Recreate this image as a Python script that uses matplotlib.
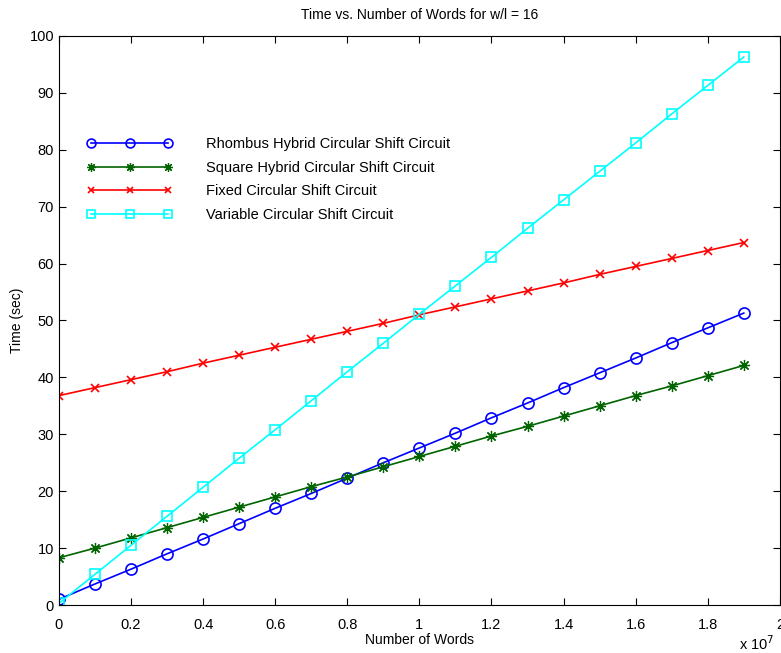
import matplotlib
matplotlib.use("Agg")
import matplotlib.pyplot as plt

plt.rcParams["font.family"] = ["Liberation Sans", "DejaVu Sans"]
plt.rcParams["font.size"] = 10

# number of words, in units of 1e7
words = [0.0, 0.1, 0.2, 0.3, 0.4, 0.5, 0.6, 0.7, 0.8, 0.9,
         1.0, 1.1, 1.2, 1.3, 1.4, 1.5, 1.6, 1.7, 1.8, 1.9]

rhombus = [1.0, 3.7, 6.3, 9.0, 11.6, 14.3, 17.0, 19.6, 22.3, 25.0,
           27.6, 30.2, 32.9, 35.5, 38.2, 40.8, 43.4, 46.1, 48.7, 51.3]
square = [8.3, 10.0, 11.8, 13.6, 15.4, 17.2, 19.0, 20.8, 22.5, 24.3,
          26.1, 27.9, 29.7, 31.4, 33.2, 35.0, 36.8, 38.5, 40.3, 42.1]
fixed = [36.8, 38.2, 39.6, 41.0, 42.5, 43.9, 45.3, 46.7, 48.1, 49.5,
         51.0, 52.4, 53.8, 55.2, 56.6, 58.1, 59.5, 60.9, 62.3, 63.7]
variable = [0.3, 5.4, 10.5, 15.6, 20.7, 25.8, 30.8, 35.9, 41.0, 46.0,
            51.1, 56.1, 61.1, 66.2, 71.2, 76.2, 81.2, 86.3, 91.3, 96.3]

labels = ["Rhombus Hybrid Circular Shift Circuit",
          "Square Hybrid Circular Shift Circuit",
          "Fixed Circular Shift Circuit",
          "Variable Circular Shift Circuit"]

fig = plt.figure(figsize=(7.81, 6.53), dpi=100)
ax = fig.add_axes([0.0755, 0.0735, 0.923, 0.8714])

ax.plot(words, rhombus, color="#0000ff", marker="o", markersize=8,
        markerfacecolor="none", markeredgewidth=1.2, linewidth=1.2, label=labels[0])
ax.plot(words, square, color="#006400", marker=(8, 2, 0), markersize=8,
        markeredgewidth=0.9, linewidth=1.2, label=labels[1])
ax.plot(words, fixed, color="#ff0000", marker="x", markersize=6,
        markeredgewidth=1.2, linewidth=1.2, label=labels[2])
ax.plot(words, variable, color="#00ffff", marker="s", markersize=7,
        markerfacecolor="none", markeredgewidth=1.2, linewidth=1.2, label=labels[3])

ax.set_xlim(0, 2)
ax.set_ylim(0, 100)
ax.set_xticks([0, 0.2, 0.4, 0.6, 0.8, 1, 1.2, 1.4, 1.6, 1.8, 2])
ax.set_xticklabels(["0", "0.2", "0.4", "0.6", "0.8", "1", "1.2", "1.4", "1.6", "1.8", "2"])
ax.set_yticks(range(0, 101, 10))
ax.tick_params(direction="in", top=True, right=True, length=5, labelsize=10.5)
ax.tick_params(axis="x", pad=9)
ax.text(0.992, -0.052, r"x 10$^7$", transform=ax.transAxes, ha="right", va="top",
        fontsize=10.5)

ax.set_title("Time vs. Number of Words for w/l = 16", fontsize=10, pad=12)
ax.set_xlabel("Number of Words", labelpad=1)
ax.set_ylabel("Time (sec)")

ax.legend(loc="upper left", bbox_to_anchor=(0.02, 0.845), frameon=False,
          numpoints=3, markerscale=0.8, handlelength=5.9, handletextpad=2.3,
          labelspacing=0.65, fontsize=10.5)

fig.savefig("out.png", dpi=100)
